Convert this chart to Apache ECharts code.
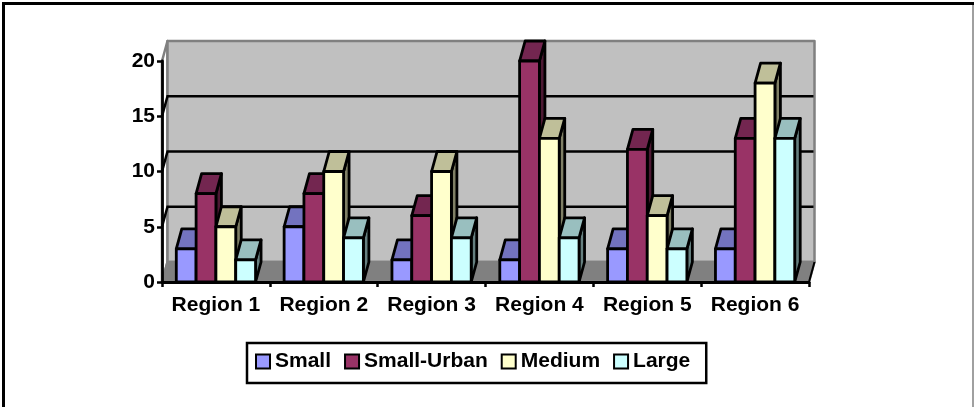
<!DOCTYPE html>
<html>
<head>
<meta charset="utf-8">
<style>html,body{margin:0;padding:0;background:#fff}#chart{width:974px;height:407px}</style>
<script src="https://cdn.jsdelivr.net/npm/echarts@6/dist/echarts.min.js"></script>
</head>
<body>
<div id="chart"></div>
<script>
const categories = ['Region 1', 'Region 2', 'Region 3', 'Region 4', 'Region 5', 'Region 6'];
const small = [3, 5, 2, 2, 3, 3];
const smallUrban = [8, 8, 6, 20, 12, 13];
const medium = [5, 10, 10, 13, 6, 18];
const large = [2, 4, 4, 4, 3, 13];
const valueTicks = [0, 5, 10, 15, 20];

const FONT = '"Liberation Sans", Arial, sans-serif';
const DEPTH_X = 5.5, DEPTH_Y = -20;       // oblique projection of the chart depth
const GROUP_SHARE = 0.735;                // share of a category taken by its four bars
const OUTLINE = { stroke: '#000', lineWidth: 2.8, lineJoin: 'round' };

const poly = (points, fill, extra) => ({
  type: 'polygon',
  shape: { points },
  style: Object.assign({ fill }, OUTLINE, extra || {})
});

// Walls, floor and gridlines of the box behind the bars
function renderBox(params, api) {
  const band = api.size([1, 0])[0];
  const left = api.coord([0, 0])[0] - band / 2;
  const right = api.coord([categories.length - 1, 0])[0] + band / 2;
  const y0 = api.coord([0, 0])[1];
  const topValue = valueTicks[valueTicks.length - 1];
  const yTop = api.coord([0, topValue])[1];
  const grey = { stroke: '#808080', lineWidth: 2.5 };
  const children = [
    poly([[left, yTop], [left + DEPTH_X, yTop + DEPTH_Y],
          [left + DEPTH_X, y0 + DEPTH_Y], [left, y0]], '#fff', grey),
    poly([[left + DEPTH_X, yTop + DEPTH_Y], [right + DEPTH_X, yTop + DEPTH_Y],
          [right + DEPTH_X, y0 + DEPTH_Y], [left + DEPTH_X, y0 + DEPTH_Y]], '#C0C0C0', grey),
    poly([[left, y0], [left + DEPTH_X, y0 + DEPTH_Y],
          [right + DEPTH_X, y0 + DEPTH_Y], [right, y0]], '#808080', grey)
  ];
  valueTicks.forEach(v => {
    const y = api.coord([0, v])[1];
    if (v > 0 && v < topValue) {
      children.push({
        type: 'polyline',
        shape: { points: [[left, y], [left + DEPTH_X, y + DEPTH_Y], [right + DEPTH_X - 1, y + DEPTH_Y]] },
        style: { stroke: '#000', lineWidth: 2.5, fill: null }
      });
    }
  });
  children.push({
    type: 'line',
    shape: { x1: right, y1: y0, x2: right + DEPTH_X, y2: y0 + DEPTH_Y },
    style: { stroke: '#000', lineWidth: 2 }
  });
  return { type: 'group', children };
}

// One oblique box: front face, darker top and darkest side
function barRenderer(seriesIndex, palette) {
  return function (params, api) {
    const band = api.size([1, 0])[0];
    const width = band * GROUP_SHARE / 4;
    const [cx, yTop] = api.coord([api.value(0), api.value(1)]);
    const yBase = api.coord([0, 0])[1];
    const x0 = cx - band * GROUP_SHARE / 2 + seriesIndex * width;
    const x1 = x0 + width;
    return {
      type: 'group',
      children: [
        poly([[x1, yTop], [x1 + DEPTH_X, yTop + DEPTH_Y], [x1 + DEPTH_X, yBase + DEPTH_Y], [x1, yBase]], palette.side),
        poly([[x0, yTop], [x0 + DEPTH_X, yTop + DEPTH_Y], [x1 + DEPTH_X, yTop + DEPTH_Y], [x1, yTop]], palette.top),
        poly([[x0, yTop], [x1, yTop], [x1, yBase], [x0, yBase]], palette.front)
      ]
    };
  };
}

const palettes = [
  { name: 'Small', data: small, front: '#9999FF', top: '#7373BF', side: '#4D4D80' },
  { name: 'Small-Urban', data: smallUrban, front: '#993366', top: '#732650', side: '#4D1933' },
  { name: 'Medium', data: medium, front: '#FFFFCC', top: '#BFBF99', side: '#808066' },
  { name: 'Large', data: large, front: '#CCFFFF', top: '#99BFBF', side: '#668080' }
];

const chart = echarts.init(document.getElementById('chart'), null, { renderer: 'canvas' });
chart.setOption({
  animation: false,
  backgroundColor: '#fff',
  textStyle: { fontFamily: FONT },
  graphic: [
    {
      type: 'polyline',
      shape: { points: [[3.5, 420], [3.5, 3.5], [974, 3.5]] },
      style: { fill: null, stroke: '#000', lineWidth: 3 },
      silent: true
    },
    {
      type: 'line',
      shape: { x1: 973, y1: 5, x2: 973, y2: 407 },
      style: { stroke: '#808080', lineWidth: 1.5 },
      silent: true
    }
  ],
  grid: { left: 162, right: 165, top: 61, height: 221, containLabel: false },
  legend: {
    left: 247, top: 343,
    data: palettes.map(p => p.name),
    icon: 'rect',
    orient: 'horizontal',
    itemWidth: 14, itemHeight: 14, itemGap: 13,
    padding: [7, 16, 10, 8],
    borderColor: '#000', borderWidth: 2.5,
    backgroundColor: '#fff',
    selectedMode: false,
    textStyle: { fontFamily: FONT, fontWeight: 'bold', fontSize: 21, lineHeight: 23, color: '#000' }
  },
  xAxis: {
    type: 'category',
    data: categories,
    boundaryGap: true,
    axisLine: { show: true, lineStyle: { color: '#000', width: 2.8 } },
    axisTick: { show: true, length: 5, lineStyle: { color: '#000', width: 2.5 } },
    axisLabel: { color: '#000', fontFamily: FONT, fontWeight: 'bold', fontSize: 21, margin: 13, interval: 0 },
    z: 1
  },
  yAxis: {
    type: 'value',
    min: 0, max: 20, interval: 5,
    axisLine: { show: true, lineStyle: { color: '#000', width: 2.8 } },
    axisTick: { show: true, length: 5, lineStyle: { color: '#000', width: 2.5 } },
    axisLabel: { color: '#000', fontFamily: FONT, fontWeight: 'bold', fontSize: 21, margin: 7 },
    splitLine: { show: false }
  },
  series: [
    {
      type: 'custom', name: 'box', silent: true, clip: false, z: 0,
      renderItem: renderBox, data: [[0, 0]], encode: { x: 0, y: 1 }
    }
  ].concat(palettes.map((p, i) => ({
    type: 'custom',
    name: p.name,
    clip: false,
    z: 2 + i,
    itemStyle: { color: p.front, borderColor: '#000', borderWidth: 2.5 },
    renderItem: barRenderer(i, p),
    data: p.data.map((v, c) => [c, v]),
    encode: { x: 0, y: 1 }
  })))
});
</script>
</body>
</html>
